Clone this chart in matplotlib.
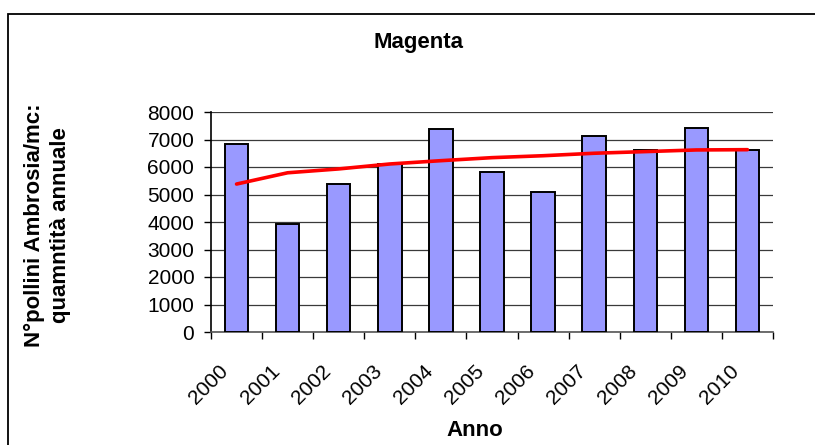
import matplotlib
matplotlib.use("Agg")
import matplotlib.pyplot as plt
import matplotlib.transforms as mtransforms
from matplotlib.patches import Rectangle
import numpy as np

years = ["2000", "2001", "2002", "2003", "2004", "2005", "2006", "2007", "2008", "2009", "2010"]
pollen = [6850, 3940, 5370, 6100, 7400, 5820, 5090, 7130, 6630, 7410, 6620]
trend = [5380, 5790, 5930, 6110, 6230, 6340, 6410, 6500, 6560, 6620, 6630]
yticks = [0, 1000, 2000, 3000, 4000, 5000, 6000, 7000, 8000]

plt.rcParams['font.family'] = ['Liberation Sans', 'DejaVu Sans']

W, H = 815, 445
fig = plt.figure(figsize=(W / 100, H / 100), dpi=100)
fig.patch.set_facecolor('white')

# outer chart frame (left and top visible)
fig.patches.append(Rectangle((8 / W, -0.2), 1.2, 1 - 14 / H + 0.2, transform=fig.transFigure,
                             fill=False, edgecolor='black', linewidth=1.3))

ax = fig.add_axes([211 / W, 1 - 332 / H, (773 - 211) / W, (332 - 112) / H])
x = np.arange(len(years))
ax.bar(x, pollen, width=0.46, color='#9999FF', edgecolor='black', linewidth=1.4, zorder=3)
ax.plot(x, trend, color='#FF0000', linewidth=2.6, zorder=4, solid_capstyle='round')

ax.set_xlim(-0.5, len(years) - 0.5)
ax.set_ylim(0, 8000)
ax.set_yticks(yticks)
ax.set_yticklabels([str(v) for v in yticks], fontsize=15)
ax.yaxis.grid(True, color='#3a3a3a', linewidth=0.9, zorder=0)
ax.set_axisbelow(True)

ax.set_xticks(x)
ax.set_xticklabels(years, fontsize=15, rotation=45, ha='right', va='center', rotation_mode='anchor')
ax.set_xticks(np.arange(-0.5, len(years), 1.0), minor=True)
ax.tick_params(axis='x', which='major', length=0, pad=26)
ax.tick_params(axis='x', which='minor', length=5, width=1.0, direction='out', color='black')
ax.tick_params(axis='y', length=5, width=1.0, direction='out', pad=7, color='black')
offset = mtransforms.ScaledTranslation(-11 / 100, 0, fig.dpi_scale_trans)
for lab in ax.get_xticklabels():
    lab.set_transform(lab.get_transform() + offset)

for s in ['top', 'right']:
    ax.spines[s].set_visible(False)
ax.spines['left'].set_color('black')
ax.spines['left'].set_linewidth(1.2)
ax.spines['bottom'].set_color('#555555')
ax.spines['bottom'].set_linewidth(1.2)

fig.text(418 / W, 1 - 48.3 / H, "Magenta", fontsize=16, fontweight='bold', ha='center', va='baseline')
fig.text(475 / W, 1 - 436 / H, "Anno", fontsize=16, fontweight='bold', ha='center', va='baseline')
fig.text(47.5 / W, 1 - 225 / H, "N°pollini Ambrosia/mc:\nquamntità annuale", fontsize=16,
         fontweight='bold', rotation=90, ha='center', va='center', multialignment='center',
         linespacing=1.3)

fig.savefig("out.png", dpi=100, facecolor='white')
